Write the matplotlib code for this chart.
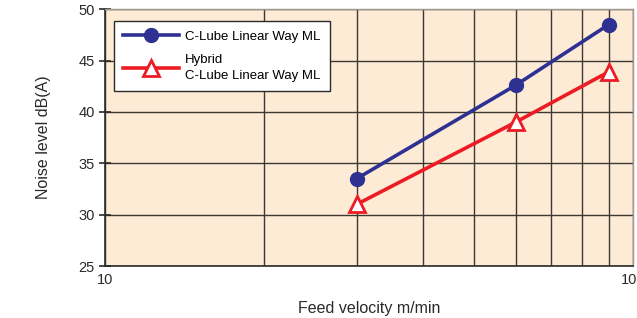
import matplotlib.pyplot as plt
from matplotlib.ticker import FixedLocator, NullFormatter

plt.rcParams['font.family'] = ['Liberation Sans', 'DejaVu Sans']

# feed velocity (m/min) and noise level dB(A)
velocity = [30, 60, 90]
noise_ml = [33.5, 42.6, 48.5]
noise_hybrid = [31.0, 39.0, 43.9]

label_ml = "C-Lube Linear Way ML"
label_hybrid = "Hybrid\nC-Lube Linear Way ML"

fig = plt.figure(figsize=(6.37, 3.18), dpi=100)
ax = fig.add_axes([104.7 / 637, 1 - 266 / 318, 528 / 637, 256.7 / 318])
ax.set_facecolor("#fdebd5")

ax.set_xscale("log")
ax.set_xlim(10, 100)
ax.set_ylim(25, 50)

ax.xaxis.set_major_locator(FixedLocator([10, 100]))
ax.xaxis.set_minor_locator(FixedLocator([20, 30, 40, 50, 60, 70, 80, 90]))
ax.xaxis.set_minor_formatter(NullFormatter())
ax.set_xticklabels(["10", "100"])
ax.set_yticks([25, 30, 35, 40, 45, 50])

grid_col = "#3d3834"
ax.grid(True, which="both", axis="x", color=grid_col, lw=1.0)
ax.grid(True, which="major", axis="y", color=grid_col, lw=1.0)
ax.set_axisbelow(True)

for s in ["left", "bottom"]:
    ax.spines[s].set_color("#2a2a2a")
    ax.spines[s].set_linewidth(1.2)
for s in ["top", "right"]:
    ax.spines[s].set_color("#a09890")
    ax.spines[s].set_linewidth(1.0)

ax.tick_params(axis="y", which="major", direction="inout", length=8,
               width=1.2, colors="#2a2a2a", labelsize=10.5, pad=3)
ax.tick_params(axis="x", which="both", length=0, labelsize=10.5, pad=5,
               colors="#2a2a2a")

ax.plot(velocity, noise_ml, color="#2e3192", lw=2.6, marker="o",
        markersize=10, markerfacecolor="#2e3192", markeredgecolor="#2e3192",
        label=label_ml, zorder=3, clip_on=False)
ax.plot(velocity, noise_hybrid, color="#ed1c24", lw=2.6, marker="^",
        markersize=11, markerfacecolor="white", markeredgecolor="#ed1c24",
        markeredgewidth=2, label=label_hybrid, zorder=3, clip_on=False)

leg = ax.legend(loc="upper left", bbox_to_anchor=(0.0176, 0.954),
                borderaxespad=0, fontsize=9.5, frameon=True, fancybox=False,
                edgecolor="#2a2a2a", framealpha=1, handlelength=4.2,
                borderpad=0.7, labelspacing=0.9, handletextpad=0.5)
leg.get_frame().set_linewidth(1.0)
for t in leg.get_texts():
    t.set_linespacing(1.35)

ax.set_ylabel("Noise level dB(A)", fontsize=11.5, color="#2a2a2a", labelpad=20)
ax.set_xlabel("Feed velocity m/min", fontsize=11.5, color="#2a2a2a", labelpad=10)

fig.savefig("out.png", dpi=100)
